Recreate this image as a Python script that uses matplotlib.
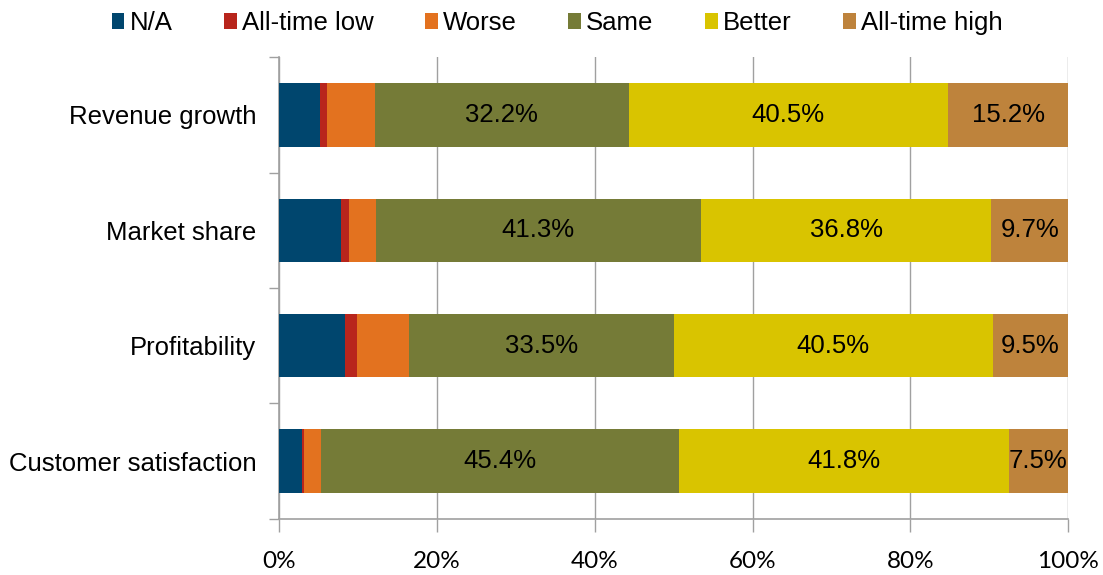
import matplotlib
matplotlib.use("Agg")
import matplotlib.pyplot as plt
import numpy as np

categories = ["Revenue growth", "Market share", "Profitability", "Customer satisfaction"]
series_names = ["N/A", "All-time low", "Worse", "Same", "Better", "All-time high"]
na_vals = [5.1, 7.8, 8.3, 2.9]
low_vals = [1.0, 1.0, 1.6, 0.2]
worse_vals = [6.0, 3.4, 6.6, 2.2]
same_vals = [32.2, 41.3, 33.5, 45.4]
better_vals = [40.5, 36.8, 40.5, 41.8]
high_vals = [15.2, 9.7, 9.5, 7.5]
labeled_series = ["Same", "Better", "All-time high"]
xtick_vals = [0, 20, 40, 60, 80, 100]
xtick_labels = ["0%", "20%", "40%", "60%", "80%", "100%"]

colors = ["#00466E", "#B8251C", "#E3721F", "#757B37", "#D9C400", "#BE833C"]
all_vals = [na_vals, low_vals, worse_vals, same_vals, better_vals, high_vals]

fig = plt.figure(figsize=(11.03, 5.75), dpi=100)
ax = fig.add_axes([279.3 / 1103, (575 - 518.7) / 575, (1068 - 279.3) / 1103, (518.7 - 57.3) / 575])

y = np.arange(len(categories))
left = np.zeros(len(categories))
handles = []
for name, vals, col in zip(series_names, all_vals, colors):
    vals = np.array(vals)
    bars = ax.barh(y, vals, left=left, height=0.55, color=col, label=name, zorder=3)
    handles.append(bars)
    if name in labeled_series:
        for yi, l, v in zip(y, left, vals):
            ax.text(l + v / 2, yi, f"{v:.1f}%", ha="center", va="center",
                    fontsize=18.5, family="Liberation Sans", color="black", zorder=4)
    left = left + vals

ax.set_xlim(0, 100)
ax.set_ylim(3.5, -0.5)
ax.set_xticks(xtick_vals)
ax.set_xticklabels(xtick_labels, family="Lato", fontsize=17.5)
ax.set_yticks(y)
ax.set_yticklabels(categories, family="Liberation Sans", fontsize=18.5)
ax.set_yticks(np.arange(-0.5, len(categories), 1.0), minor=True)
ax.tick_params(axis="y", which="major", length=0, pad=16.5)
ax.tick_params(axis="y", which="minor", length=7, color="#A0A0A0", width=1)
ax.tick_params(axis="x", which="major", length=9, color="#A0A0A0", width=1, pad=14)
ax.grid(axis="x", color="#A0A0A0", linewidth=1, zorder=0)
for s in ["top", "right"]:
    ax.spines[s].set_visible(False)
for s in ["left", "bottom"]:
    ax.spines[s].set_color("#A0A0A0")
    ax.spines[s].set_linewidth(1.2)

fig.legend(handles=handles, labels=series_names, loc="center", bbox_to_anchor=(0.505, 1 - 23 / 575),
           ncol=6, frameon=False, prop={"family": "Liberation Sans", "size": 18.5},
           handlelength=0.5, handleheight=0.6, handletextpad=0.2, columnspacing=2.0)

fig.savefig("out.png", dpi=100)
